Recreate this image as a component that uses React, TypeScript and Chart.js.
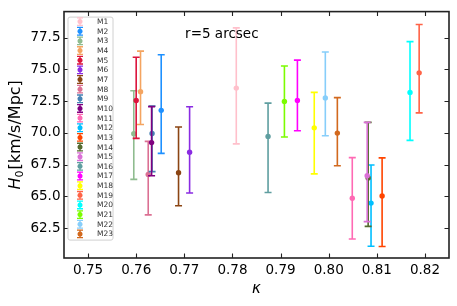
import React, { useEffect, useRef } from "react";
import { Chart, registerables } from "chart.js";

Chart.register(...registerables);

// ---- data ----
const modelLabels = [
  "M1", "M2", "M3", "M4", "M5", "M6", "M7", "M8", "M9", "M10", "M11", "M12",
  "M13", "M14", "M15", "M16", "M17", "M18", "M19", "M20", "M21", "M22", "M23",
];
const kappa = [
  0.7808, 0.7652, 0.7595, 0.7609, 0.76, 0.7711, 0.7688, 0.7625, 0.7633, 0.7632,
  0.8049, 0.8088, 0.8111, 0.8082, 0.808, 0.7874, 0.7935, 0.797, 0.8188, 0.8169,
  0.7908, 0.7993, 0.8018,
];
const h0 = [
  73.53, 71.78, 69.94, 73.25, 72.56, 68.48, 66.87, 66.74, 69.96, 69.24,
  64.86, 64.48, 65.04, 66.45, 66.64, 69.73, 72.55, 70.4, 74.73, 73.19,
  72.47, 72.76, 69.99,
];
const h0Upper = [
  78.27, 76.16, 73.32, 76.44, 75.96, 72.06, 70.47, 69.34, 72.11, 72.07,
  68.06, 67.48, 68.04, 70.83, 70.83, 72.35, 75.73, 73.19, 78.53, 77.19,
  75.27, 76.37, 72.78,
];
const h0Lower = [
  69.14, 68.39, 66.35, 70.66, 69.57, 65.27, 64.27, 63.55, 66.96, 66.63,
  61.66, 61.08, 61.07, 62.65, 63.02, 65.32, 70.17, 66.78, 71.58, 69.42,
  69.68, 69.78, 67.42,
];
const seriesColors = [
  "#FFC0CB", "#1E90FF", "#8FBC8F", "#F4A460", "#DC143C", "#8A2BE2", "#8B4513",
  "#DB7093", "#4682B4", "#800080", "#FF69B4", "#00BFFF", "#FF4500", "#556B2F",
  "#DA70D6", "#5F9EA0", "#FF00FF", "#FFFF00", "#FF6347", "#00FFFF", "#7CFC00",
  "#87CEFA", "#D2691E",
];
const xTickValues = [0.75, 0.76, 0.77, 0.78, 0.79, 0.8, 0.81, 0.82];
const yTickValues = [62.5, 65, 67.5, 70, 72.5, 75, 77.5];
const annotationText = "r=5 arcsec";
const xTitle = "κ";
const yTitleMain = "H";
const yTitleSub = "0";
const yTitleRest = "[km/s/Mpc]";

const FONT = "'DejaVu Sans', sans-serif";

const errorBarPlugin = {
  id: "errorBars",
  beforeDatasetDraw(chart: any, args: any) {
    const ctx = chart.ctx;
    const xs = chart.scales.x;
    const ys = chart.scales.y;
    const ds = chart.data.datasets[args.index];
    ctx.save();
    ctx.strokeStyle = ds.borderColor;
    ctx.lineWidth = 1.6;
    ds.data.forEach((p: any) => {
      const px = xs.getPixelForValue(p.x);
      const top = ys.getPixelForValue(p.yMax);
      const bot = ys.getPixelForValue(p.yMin);
      ctx.beginPath();
      ctx.moveTo(px, top);
      ctx.lineTo(px, bot);
      ctx.moveTo(px - 3.5, top);
      ctx.lineTo(px + 3.5, top);
      ctx.moveTo(px - 3.5, bot);
      ctx.lineTo(px + 3.5, bot);
      ctx.stroke();
    });
    ctx.restore();
  },
};

const decorPlugin = {
  id: "decor",
  afterDraw(chart: any) {
    const ctx = chart.ctx;
    const ca = chart.chartArea;
    const xs = chart.scales.x;
    const ys = chart.scales.y;
    ctx.save();
    // frame
    ctx.strokeStyle = "#222";
    ctx.lineWidth = 1.6;
    ctx.strokeRect(ca.left, ca.top, ca.right - ca.left, ca.bottom - ca.top);
    // inward ticks
    ctx.lineWidth = 1.1;
    ctx.beginPath();
    const tl = 4.5;
    xTickValues.forEach((v) => {
      const px = Math.round(xs.getPixelForValue(v)) + 0.5;
      ctx.moveTo(px, ca.bottom);
      ctx.lineTo(px, ca.bottom - tl);
      ctx.moveTo(px, ca.top);
      ctx.lineTo(px, ca.top + tl);
    });
    yTickValues.forEach((v) => {
      const py = Math.round(ys.getPixelForValue(v)) + 0.5;
      ctx.moveTo(ca.left, py);
      ctx.lineTo(ca.left + tl, py);
      ctx.moveTo(ca.right, py);
      ctx.lineTo(ca.right - tl, py);
    });
    ctx.stroke();

    // annotation
    ctx.fillStyle = "#000";
    ctx.font = `13.5px ${FONT}`;
    ctx.textAlign = "center";
    ctx.textBaseline = "middle";
    ctx.fillText(annotationText, ca.left + 0.41 * (ca.right - ca.left), ca.top + 22.5);

    // x title
    ctx.font = `italic 15px ${FONT}`;
    ctx.fillText(xTitle, (ca.left + ca.right) / 2, 289);

    // y title
    ctx.save();
    ctx.translate(14.5, (ca.top + ca.bottom) / 2);
    ctx.rotate(-Math.PI / 2);
    ctx.textAlign = "left";
    ctx.textBaseline = "alphabetic";
    const mainFont = `italic 16px ${FONT}`;
    const subFont = `11px ${FONT}`;
    const restFont = `16px ${FONT}`;
    ctx.font = mainFont;
    const wH = ctx.measureText(yTitleMain).width;
    ctx.font = subFont;
    const wS = ctx.measureText(yTitleSub).width;
    ctx.font = restFont;
    const wR = ctx.measureText(yTitleRest).width;
    const total = wH + wS + 1 + wR;
    let x0 = -total / 2;
    const base = 5.5;
    ctx.font = mainFont;
    ctx.fillText(yTitleMain, x0, base);
    x0 += wH;
    ctx.font = subFont;
    ctx.fillText(yTitleSub, x0, base + 3);
    x0 += wS + 1;
    ctx.font = restFont;
    ctx.fillText(yTitleRest, x0, base);
    ctx.restore();

    // legend
    const bx = ca.left + 3.5;
    const by = ca.top + 5;
    const bw = 45;
    const bh = 223;
    ctx.beginPath();
    (ctx as any).roundRect(bx + 0.5, by + 0.5, bw, bh, 2);
    ctx.fillStyle = "rgba(255,255,255,0.8)";
    ctx.fill();
    ctx.strokeStyle = "#d0d0d0";
    ctx.lineWidth = 1;
    ctx.stroke();
    const n = chart.data.datasets.length;
    const step = 9.65;
    ctx.font = `7.5px ${FONT}`;
    ctx.textAlign = "left";
    ctx.textBaseline = "middle";
    for (let i = 0; i < n; i++) {
      const ds = chart.data.datasets[i];
      const cy = by + 5 + i * step;
      const ix = bx + 12.5;
      ctx.strokeStyle = ds.borderColor;
      ctx.lineWidth = 1.3;
      ctx.beginPath();
      ctx.moveTo(ix, cy - 3.8);
      ctx.lineTo(ix, cy + 3.8);
      ctx.moveTo(ix - 3, cy - 3.8);
      ctx.lineTo(ix + 3, cy - 3.8);
      ctx.moveTo(ix - 3, cy + 3.8);
      ctx.lineTo(ix + 3, cy + 3.8);
      ctx.stroke();
      ctx.fillStyle = ds.backgroundColor;
      ctx.beginPath();
      ctx.arc(ix, cy, 2.5, 0, Math.PI * 2);
      ctx.fill();
      ctx.fillStyle = "#333";
      ctx.fillText(ds.label, bx + 29.5, cy + 0.5);
    }
    ctx.restore();
  },
};

export default function App() {
  const ref = useRef<HTMLCanvasElement | null>(null);
  useEffect(() => {
    if (!ref.current) return;
    const datasets = modelLabels.map((lab, i) => ({
      label: lab,
      data: [{ x: kappa[i], y: h0[i], yMin: h0Lower[i], yMax: h0Upper[i] }],
      borderColor: seriesColors[i],
      backgroundColor: seriesColors[i],
      pointRadius: 2.7,
      pointBorderWidth: 0,
      showLine: false,
      order: -i,
    }));
    const chart = new Chart(ref.current, {
      type: "scatter",
      data: { datasets },
      options: {
        animation: false,
        responsive: false,
        maintainAspectRatio: false,
        devicePixelRatio: 1,
        layout: { padding: { top: 6, right: 8, left: 0, bottom: 0 } },
        plugins: {
          legend: { display: false },
          tooltip: { enabled: false },
          title: { display: false },
        },
        scales: {
          x: {
            type: "linear",
            min: 0.745,
            max: 0.825,
            grid: { display: false, drawTicks: false },
            border: { display: false },
            afterBuildTicks: (s: any) => {
              s.ticks = xTickValues.map((v) => ({ value: v }));
            },
            afterFit: (s: any) => {
              s.height = 48;
            },
            ticks: {
              callback: (v: any) => Number(v).toFixed(2),
              font: { family: FONT, size: 13.5 },
              color: "#000",
              padding: 4.5,
              maxRotation: 0,
              autoSkip: false,
            },
          },
          y: {
            type: "linear",
            min: 60.16,
            max: 79.55,
            grid: { display: false, drawTicks: false },
            border: { display: false },
            afterBuildTicks: (s: any) => {
              s.ticks = yTickValues.map((v) => ({ value: v }));
            },
            afterFit: (s: any) => {
              s.width = 64;
            },
            ticks: {
              callback: (v: any) => Number(v).toFixed(1),
              font: { family: FONT, size: 13.5 },
              color: "#000",
              padding: 3.5,
              autoSkip: false,
            },
          },
        },
      } as any,
      plugins: [errorBarPlugin, decorPlugin],
    });
    return () => chart.destroy();
  }, []);
  return (
    <div style={{ position: "absolute", left: 0, top: 0, width: 457, height: 306, background: "#fff" }}>
      <canvas ref={ref} width={457} height={306} style={{ width: 457, height: 306 }} />
    </div>
  );
}
